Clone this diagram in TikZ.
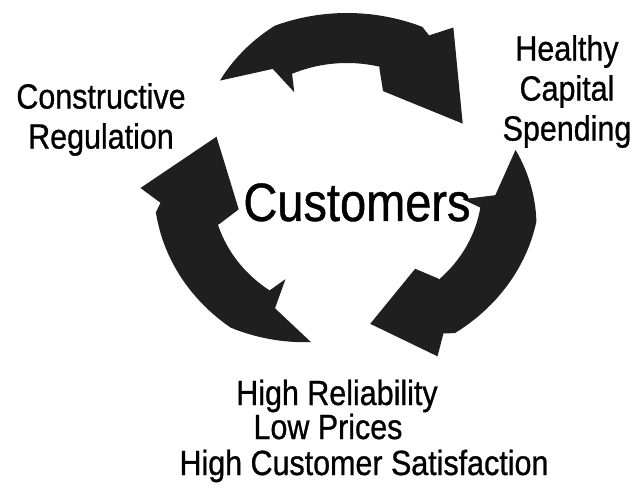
\documentclass[tikz,border=0pt]{standalone}
\usepackage{fontspec}
\setmainfont{Liberation Sans}[FakeStretch=0.87,FakeBold=0.8]

\newcommand{\outerpt}[2]{({347+#2*193*cos(#1)},{188+#2*175*sin(#1)})}
\newcommand{\innerpt}[2]{({347+#2*135*cos(#1)},{188+#2*125*sin(#1)})}
\newcommand{\cyclearrow}[3]{%
  \pgfmathsetmacro{\outerend}{#1+70}%
  \pgfmathsetmacro{\innerstart}{#1+61}%
  \pgfmathsetmacro{\innerend}{#1+23}%
  \fill[arrowfill]
    plot[domain=#1:\outerend,samples=40]
      ({347+193*(1-0.1*max(0,1-(\x-(#1))/25))*cos(\x)},{188+175*(1-0.1*max(0,1-(\x-(#1))/25))*sin(\x)})
    -- \outerpt{#1+73}{0.97}
    -- \outerpt{#1+78}{1.07}
    -- \innerpt{#2}{#3}
    -- \innerpt{#1+66}{0.82}
    -- \innerpt{#1+61}{0.99}
    -- plot[domain=\innerstart:\innerend,samples=30] ({347+135*cos(\x)},{188+125*sin(\x)})
    -- \innerpt{#1+20}{0.86}
    -- \innerpt{#1+17}{1.1}
    -- cycle;}

\begin{document}
\begin{tikzpicture}[x=1pt,y=-1pt,
  arrowfill/.style={fill=black!88},
  cyclelabel/.style={font=\fontsize{35}{40}\selectfont, inner sep=0pt, align=center},
  hubtext/.style={font=\fontsize{54}{60}\selectfont, inner sep=0pt}]
\useasboundingbox (0,0) rectangle (635,492);

\cyclearrow{-137}{-31}{1.0}
\cyclearrow{-14}{81}{1.1}
\cyclearrow{102}{203}{1.05}

\node[hubtext, anchor=base] (cust) at (357,221) {Customers};
\node[cyclelabel, anchor=north] (reg) at (101,83) {Constructive\\Regulation};
\node[cyclelabel, anchor=north] (cap) at (567,35) {Healthy\\Capital\\Spending};
\node[cyclelabel, anchor=base] (rel) at (337,405) {High Reliability};
\node[cyclelabel, anchor=base] (low) at (328,439) {Low Prices};
\node[cyclelabel, anchor=base] (sat) at (364,475) {High Customer Satisfaction};
\end{tikzpicture}
\end{document}
